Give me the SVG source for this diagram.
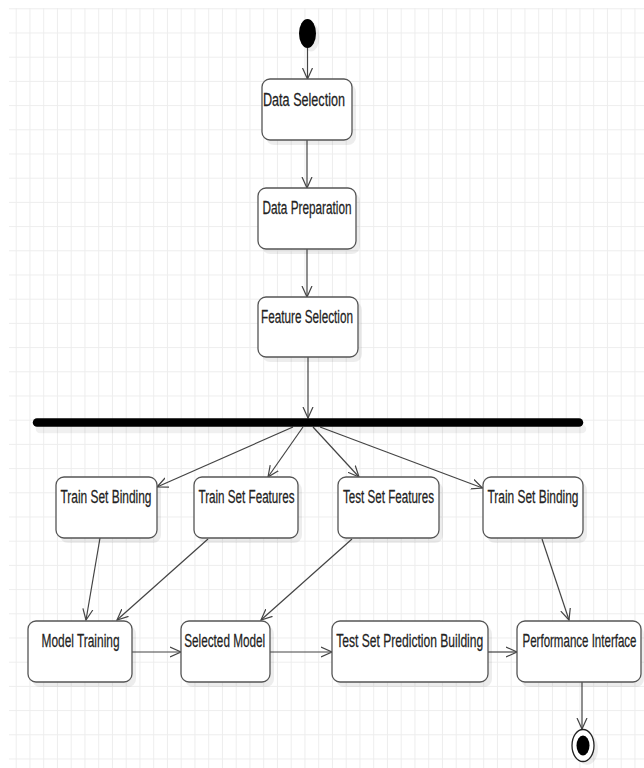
<svg xmlns="http://www.w3.org/2000/svg" width="644" height="768" viewBox="0 0 644 768">
<defs>
<pattern id="grid" patternUnits="userSpaceOnUse" x="1.95" y="8.3" width="13.75" height="24.2">
<path d="M0.5,0 V24.2 M0,0.5 H13.75" stroke="#ededed" stroke-width="1" fill="none"/>
</pattern>
<marker id="arr" markerUnits="userSpaceOnUse" markerWidth="14" markerHeight="14" refX="11" refY="6" orient="auto" viewBox="0 0 14 12">
<path d="M0,1 L11,6 L0,11" fill="none" stroke="#444" stroke-width="1.2"/>
</marker>
</defs>
<style>
.box{fill:#fff;stroke:#555;stroke-width:1.3}
.sh{fill:#000;opacity:0.07}
.lbl{font-family:"Liberation Sans",Arial,sans-serif;font-size:18.5px;fill:#222;stroke:#222;stroke-width:0.25;text-anchor:middle}
.c{stroke:#444;stroke-width:1.2;fill:none;marker-end:url(#arr)}
</style>
<rect width="644" height="768" fill="#fff"/>
<rect x="9" y="8" width="635" height="760" fill="url(#grid)"/>

<g id="connectors">
<line class="c" x1="307.5" y1="48" x2="307.5" y2="79"/>
<line class="c" x1="307" y1="140" x2="307" y2="188"/>
<line class="c" x1="307" y1="249" x2="307" y2="297"/>
<line class="c" x1="308" y1="357" x2="308" y2="418"/>
<line class="c" x1="293" y1="427" x2="157" y2="487"/>
<line class="c" x1="303" y1="427" x2="268" y2="477"/>
<line class="c" x1="313" y1="427" x2="359" y2="477"/>
<line class="c" x1="320" y1="427" x2="482.5" y2="488"/>
<line class="c" x1="100" y1="538" x2="86" y2="620"/>
<line class="c" x1="208" y1="539" x2="117" y2="620"/>
<line class="c" x1="352" y1="539" x2="261" y2="620"/>
<line class="c" x1="542" y1="539" x2="569" y2="620"/>
<line class="c" x1="132" y1="652" x2="181" y2="652"/>
<line class="c" x1="270" y1="652" x2="332" y2="652"/>
<line class="c" x1="488" y1="652" x2="517" y2="652"/>
<line class="c" x1="582" y1="682" x2="582" y2="729"/>
</g>

<g id="start">
<ellipse cx="311" cy="37" rx="8.5" ry="14.5" class="sh"/>
<ellipse cx="307.5" cy="33.5" rx="8.5" ry="14.5" fill="#000"/>
</g>

<g id="n1">
<rect class="sh" x="266" y="84" width="90" height="61" rx="8"/>
<rect class="box" x="262" y="79" width="90" height="61" rx="8"/>
<text class="lbl" transform="translate(304,106) scale(0.68,1)" textLength="120.6" lengthAdjust="spacingAndGlyphs">Data Selection</text>
</g>
<g id="n2">
<rect class="sh" x="262" y="193" width="98" height="61" rx="8"/>
<rect class="box" x="258" y="188" width="98" height="61" rx="8"/>
<text class="lbl" transform="translate(307,214) scale(0.68,1)" textLength="130.9" lengthAdjust="spacingAndGlyphs">Data Preparation</text>
</g>
<g id="n3">
<rect class="sh" x="262" y="302" width="100" height="60" rx="8"/>
<rect class="box" x="258" y="297" width="100" height="60" rx="8"/>
<text class="lbl" transform="translate(307,323) scale(0.68,1)" textLength="135.3" lengthAdjust="spacingAndGlyphs">Feature Selection</text>
</g>

<g id="fork">
<line x1="40" y1="429" x2="582" y2="429" stroke="#000" stroke-opacity="0.06" stroke-width="8.5" stroke-linecap="round"/>
<line x1="37" y1="422.5" x2="579" y2="422.5" stroke="#000" stroke-width="8.5" stroke-linecap="round"/>
</g>

<g id="n4">
<rect class="sh" x="60" y="482" width="101" height="61" rx="8"/>
<rect class="box" x="56" y="477" width="101" height="61" rx="8"/>
<text class="lbl" transform="translate(106,503) scale(0.68,1)" textLength="133.8" lengthAdjust="spacingAndGlyphs">Train Set Binding</text>
</g>
<g id="n5">
<rect class="sh" x="198" y="482" width="104" height="61" rx="8"/>
<rect class="box" x="194" y="477" width="104" height="61" rx="8"/>
<text class="lbl" transform="translate(246.5,503) scale(0.68,1)" textLength="141.2" lengthAdjust="spacingAndGlyphs">Train Set Features</text>
</g>
<g id="n6">
<rect class="sh" x="342" y="482" width="101" height="61" rx="8"/>
<rect class="box" x="338" y="477" width="101" height="61" rx="8"/>
<text class="lbl" transform="translate(388.5,503) scale(0.68,1)" textLength="133.8" lengthAdjust="spacingAndGlyphs">Test Set Features</text>
</g>
<g id="n7">
<rect class="sh" x="487" y="482" width="100" height="61" rx="8"/>
<rect class="box" x="483" y="477" width="100" height="61" rx="8"/>
<text class="lbl" transform="translate(533,503) scale(0.68,1)" textLength="133.8" lengthAdjust="spacingAndGlyphs">Train Set Binding</text>
</g>

<g id="n8">
<rect class="sh" x="32" y="626" width="104" height="61" rx="8"/>
<rect class="box" x="28" y="621" width="104" height="61" rx="8"/>
<text class="lbl" transform="translate(80.5,647) scale(0.68,1)" textLength="114.7" lengthAdjust="spacingAndGlyphs">Model Training</text>
</g>
<g id="n9">
<rect class="sh" x="185" y="626" width="89" height="61" rx="8"/>
<rect class="box" x="181" y="621" width="89" height="61" rx="8"/>
<text class="lbl" transform="translate(224.7,647) scale(0.68,1)" textLength="119.1" lengthAdjust="spacingAndGlyphs">Selected Model</text>
</g>
<g id="n10">
<rect class="sh" x="336" y="626" width="156" height="61" rx="8"/>
<rect class="box" x="332" y="621" width="156" height="61" rx="8"/>
<text class="lbl" transform="translate(409.7,647) scale(0.68,1)" textLength="216.2" lengthAdjust="spacingAndGlyphs">Test Set Prediction Building</text>
</g>
<g id="n11">
<rect class="sh" x="521" y="626" width="123" height="61" rx="8"/>
<rect class="box" x="517" y="621" width="124" height="61" rx="8"/>
<text class="lbl" transform="translate(579.5,647) scale(0.62,1)" textLength="183.9" lengthAdjust="spacingAndGlyphs">Performance Interface</text>
</g>

<g id="end">
<ellipse cx="587" cy="749" rx="11" ry="16" class="sh"/>
<ellipse cx="583" cy="745.5" rx="11" ry="16" fill="#fff" stroke="#222" stroke-width="1.3"/>
<ellipse cx="583" cy="745.5" rx="6.5" ry="10" fill="#000"/>
</g>
</svg>
